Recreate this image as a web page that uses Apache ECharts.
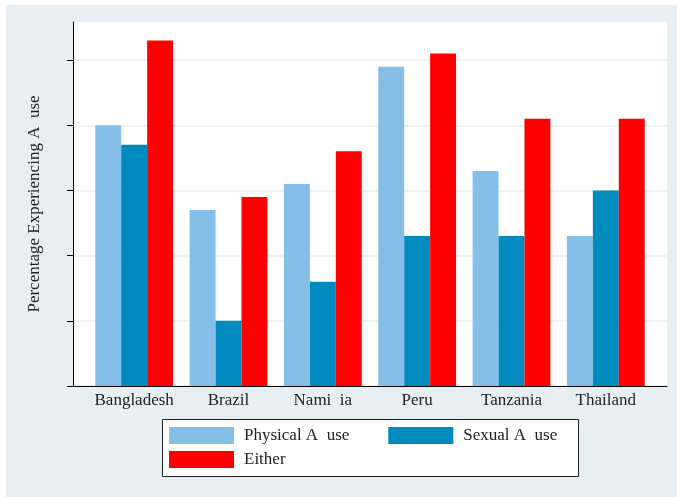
<!DOCTYPE html>
<html><head><meta charset="utf-8">
<script src="https://cdn.jsdelivr.net/npm/echarts@6/dist/echarts.min.js"></script>
<style>
html,body{margin:0;padding:0;background:#fff;}
#wrap{position:absolute;left:6px;top:5px;width:671px;height:492px;background:#E8EFF2;}
#c{position:absolute;left:-6px;top:-5px;width:677px;height:497px;}
</style></head>
<body><div id="wrap"><div id="c"></div></div>
<script>
const categories = ["Bangladesh","Brazil","Nami  ia","Peru","Tanzania","Thailand"];
const physical = [40, 27, 31, 49, 33, 23];
const sexual   = [37, 10, 16, 23, 23, 30];
const either   = [53, 29, 36, 51, 41, 41];
const seriesNames = ["Physical A  use","Sexual A  use","Either"];
const yTicks = [0,10,20,30,40,50];
const yMax = 55.85;

const chart = echarts.init(document.getElementById('c'));
const font = '"Liberation Serif","Times New Roman",serif';
const txt = {fontFamily:font,fontSize:17,color:'#222'};
chart.setOption({
  animation:false,
  textStyle:{fontFamily:font},
  grid:[
    {left:87,right:24,top:22,bottom:111,show:false},
    {left:73,right:10,top:22,bottom:111,show:true,backgroundColor:'#fff',borderWidth:0,z:0}
  ],
  xAxis:[
    {type:'category',data:categories,gridIndex:0,
     axisLine:{show:false},axisTick:{show:false},
     axisLabel:Object.assign({margin:6,interval:0},txt)},
    {type:'value',gridIndex:1,min:0,max:1,
     axisLine:{show:true,lineStyle:{color:'#000',width:1}},
     axisTick:{show:false},axisLabel:{show:false},splitLine:{show:false}}
  ],
  yAxis:[
    {type:'value',gridIndex:0,min:0,max:yMax,interval:10,show:false,splitLine:{show:false}},
    {type:'value',gridIndex:1,min:0,max:yMax,interval:10,
     name:'Percentage Experiencing A  use',nameLocation:'middle',nameGap:30,
     nameTextStyle:txt,
     axisLine:{show:true,lineStyle:{color:'#000',width:1}},
     axisTick:{show:true,length:6,customValues:yTicks,lineStyle:{color:'#000'}},
     axisLabel:{show:false,customValues:yTicks},
     splitLine:{show:true,lineStyle:{color:'#EAF2F3',width:1.5}}}
  ],
  legend:[
    {data:[seriesNames[0],seriesNames[1]],left:169,top:427,itemWidth:65,itemHeight:17,itemGap:39,
     icon:'rect',padding:0,textStyle:Object.assign({padding:[0,0,0,5]},txt)},
    {data:[seriesNames[2]],left:169,top:451,itemWidth:65,itemHeight:17,
     icon:'rect',padding:0,textStyle:Object.assign({padding:[0,0,0,5]},txt)}
  ],
  graphic:[{type:'rect',z:-1,shape:{x:162.5,y:419.5,width:416,height:57},
    style:{fill:'#fff',stroke:'#222',lineWidth:1}}],
  series:[
    {name:seriesNames[0],type:'bar',data:physical,itemStyle:{color:'#85BFE8'},barGap:'0%',barCategoryGap:'17.5%'},
    {name:seriesNames[1],type:'bar',data:sexual,itemStyle:{color:'#008ABD'},barGap:'0%',barCategoryGap:'17.5%'},
    {name:seriesNames[2],type:'bar',data:either,itemStyle:{color:'#FF0000'},barGap:'0%',barCategoryGap:'17.5%'}
  ]
});
</script></body></html>
